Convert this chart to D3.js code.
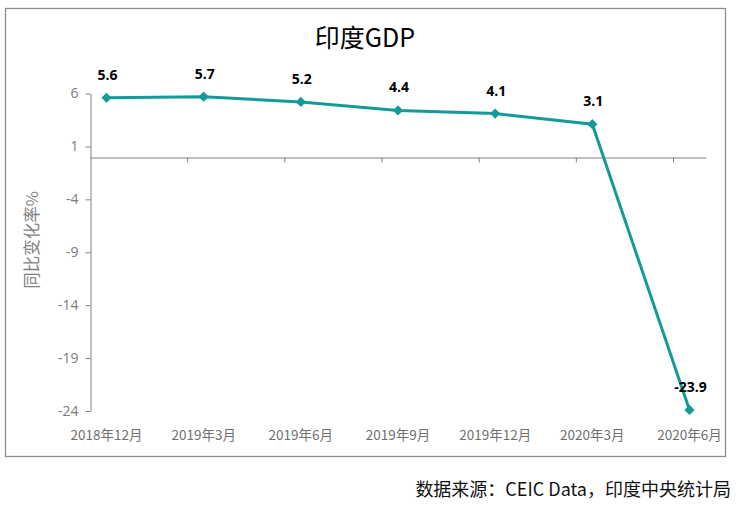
<!DOCTYPE html>
<html lang="zh">
<head>
<meta charset="utf-8">
<title>印度GDP</title>
<script src="https://d3js.org/d3.v7.min.js"></script>
<style>
body { margin: 0; background: #fff; }
svg text { font-family: "Noto Sans CJK SC", "DejaVu Sans", sans-serif; }
</style>
</head>
<body>
<svg id="chart" width="740" height="512"></svg>
<script>
// data
var quarters = ["2018年12月", "2019年3月", "2019年6月", "2019年9月", "2019年12月", "2020年3月", "2020年6月"];
var growth = [5.6, 5.7, 5.2, 4.4, 4.1, 3.1, -23.9];
var yTicks = [6, 1, -4, -9, -14, -19, -24];

var svg = d3.select("#chart");
var teal = "#149b97";
var grey = "#808080";

// outer frame
svg.append("rect")
    .attr("x", 5.5).attr("y", 8.5)
    .attr("width", 720).attr("height", 448)
    .attr("fill", "none")
    .attr("stroke", "#8c8c8c")
    .attr("stroke-width", 1.3);

var y = d3.scaleLinear()
    .domain([-24, 6])
    .range([411, 93.5]);

var x = d3.scalePoint()
    .domain(quarters)
    .range([106.5, 689.5]);

var step = x.step();

// y axis, ticks outside on the left (plain hyphen for negatives)
var yAxis = svg.append("g")
    .attr("transform", "translate(90.5,0)")
    .call(d3.axisLeft(y).tickValues(yTicks)
        .tickFormat(function(d) { return String(d); })
        .tickSize(5).tickSizeOuter(0).tickPadding(7));
yAxis.select(".domain").attr("stroke", grey);
yAxis.selectAll(".tick line").attr("stroke", grey);
yAxis.selectAll(".tick text")
    .attr("fill", "#7a7a7a")
    .style("font-family", "'Open Sans', sans-serif")
    .style("font-size", "14px");

// x axis sits on zero; ticks hang below between categories
var xTick = d3.scaleLinear()
    .domain([0, (706 - 90) / step])
    .range([90, 706]);
var xAxis = svg.append("g")
    .attr("transform", "translate(0," + Math.round(y(0)) + ".5)")
    .call(d3.axisBottom(xTick).tickValues(d3.range(1, 7)).tickFormat("").tickSize(5).tickSizeOuter(0));
xAxis.select(".domain").attr("stroke", grey);
xAxis.selectAll(".tick line").attr("stroke", grey);

// category labels at the bottom
svg.append("g").selectAll("text")
    .data(quarters)
    .enter().append("text")
    .attr("x", function(d) { return x(d); })
    .attr("y", 440)
    .attr("text-anchor", "middle")
    .attr("fill", "#6f6f6f")
    .style("font-size", "13.5px")
    .text(function(d) { return d; });

// line + diamond markers
var line = d3.line()
    .x(function(d, i) { return x(quarters[i]); })
    .y(function(d) { return y(d); });

svg.append("path")
    .datum(growth)
    .attr("d", line)
    .attr("fill", "none")
    .attr("stroke", teal)
    .attr("stroke-width", 3);

// square turned 45 degrees gives the even diamond of the original
svg.append("g").selectAll("path")
    .data(growth)
    .enter().append("path")
    .attr("transform", function(d, i) { return "translate(" + x(quarters[i]) + "," + y(d) + ") rotate(45)"; })
    .attr("d", d3.symbol().type(d3.symbolSquare).size(52))
    .attr("fill", teal);

svg.append("g").selectAll("text")
    .data(growth)
    .enter().append("text")
    .attr("x", function(d, i) { return x(quarters[i]) + 1; })
    .attr("y", function(d) { return y(d) - 18; })
    .attr("text-anchor", "middle")
    .attr("fill", "#000")
    .style("font-family", "'Open Sans', sans-serif")
    .style("font-weight", "bold")
    .style("font-size", "14px")
    .text(function(d) { return d.toFixed(1); });

// title
svg.append("text")
    .attr("x", 365)
    .attr("y", 47)
    .attr("text-anchor", "middle")
    .attr("fill", "#000")
    .style("font-size", "25px")
    .text("印度GDP");

// y axis title
svg.append("text")
    .attr("transform", "translate(38,240) rotate(-90)")
    .attr("text-anchor", "middle")
    .attr("fill", grey)
    .style("font-size", "16.5px")
    .text("同比变化率%");

// source note
svg.append("text")
    .attr("x", 731)
    .attr("y", 496)
    .attr("text-anchor", "end")
    .attr("fill", "#111")
    .style("font-size", "18px")
    .text("数据来源：CEIC Data，印度中央统计局");
</script>
</body>
</html>
